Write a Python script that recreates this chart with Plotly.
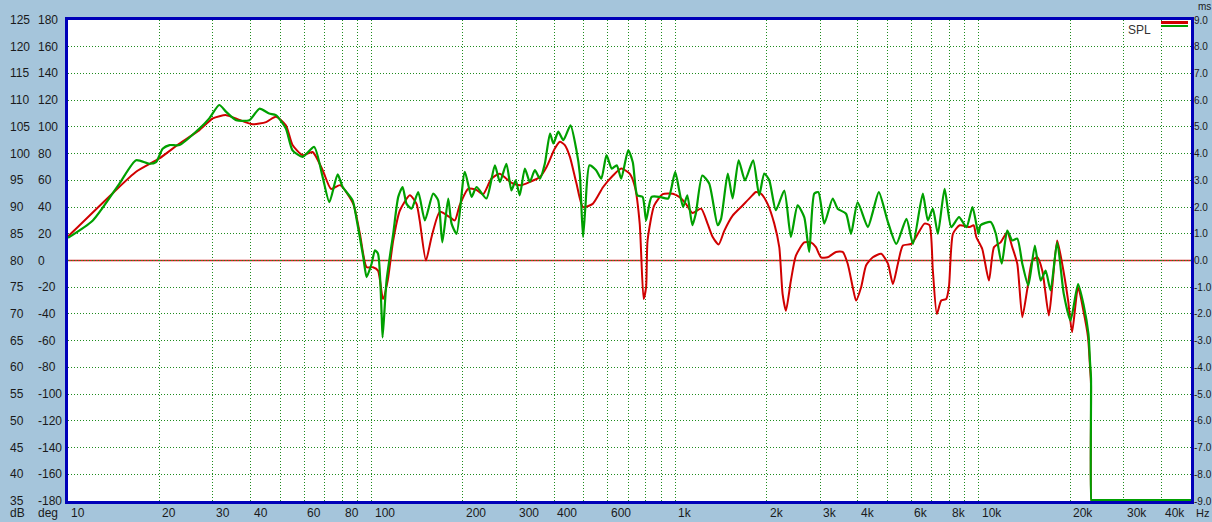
import plotly.graph_objects as go
import math

# ---------------- data ----------------
red_freq = [10, 14.04, 16.76, 20, 23.3, 27.1, 30, 33.2, 36.7, 40.6, 44.9, 48.4, 52.2, 54.9, 59.3,
            63.9, 69.0, 73.5, 78.8, 87, 91.5, 96.3, 101, 105, 109, 113, 117.8, 124, 133.7, 140.6,
            144, 151, 157.6, 167.8, 181, 188, 195, 208, 221, 233, 248, 264, 278, 292, 311, 332,
            358, 377, 401, 417, 433, 450, 473, 497, 535, 579, 624, 664, 708, 737, 764, 787, 802,
            811, 853, 910, 982, 1031, 1085, 1139, 1217, 1278, 1329, 1390, 1452, 1546, 1667, 1775,
            1845, 1918, 2015, 2120, 2202, 2258, 2316, 2405, 2498, 2661, 2799, 2908, 3021, 3178,
            3387, 3561, 3700, 3844, 3943, 4096, 4255, 4477, 4771, 5020, 5213, 5414, 5624, 5993,
            6301, 6624, 6880, 7058, 7276, 7522, 7813, 7972, 8220, 8650, 9330, 9617, 9811, 10260,
            10800, 11225, 11800, 12410, 12890, 13390, 13910, 14450, 15010, 15590, 16190, 17010,
            17450, 18120, 18820, 19690, 20290, 21230, 22160, 22900, 23250, 23420, 23480, 23560,
            23700, 30000, 40000, 50000]
red_db = [84.5, 92.6, 96.6, 99.1, 101.9, 104.4, 106.6, 107.2, 106.3, 105.5, 105.9, 106.9, 105.3,
          101.6, 99.7, 100.3, 96.9, 93.4, 94.1, 90.6, 85, 78.75, 78.75, 78.1, 72.8, 76.25, 83.75,
          89.4, 92.2, 90.6, 87.5, 80, 84.4, 89.1, 88.1, 87.5, 90.3, 93.4, 93.25, 92.4, 95.3, 96.25,
          95.3, 94.4, 94.1, 94.7, 95.6, 97.5, 100.9, 102.2, 101.6, 99.4, 94.4, 90, 90.6, 93.75,
          95.9, 97.2, 96.25, 93.75, 86.9, 72.8, 75, 83.75, 90.3, 92.4, 92.5, 91.9, 90.6, 88.9,
          89.7, 86.9, 84.4, 83, 85.6, 88.4, 90.3, 91.9, 92.8, 92.5, 90.6, 86.9, 82.5, 73.75, 70.6,
          76.25, 80.9, 83.4, 83.4, 82.5, 80.6, 80.6, 81.6, 81.6, 79.4, 75, 72.5, 75, 79.1, 80.6,
          81.25, 79.4, 75.6, 79.4, 82.8, 83.1, 85, 86.9, 86.6, 78.1, 70, 72.5, 72.8, 75, 85, 86.6,
          86.25, 86.6, 84.4, 82.2, 76.25, 82.5, 83.4, 85.3, 82.5, 79.4, 69.4, 74.7, 80, 80.6,
          78.1, 69.7, 75, 83.75, 79.4, 72.5, 66.6, 75, 70.3, 65.6, 60, 57, 35.15, 35.15, 35.15,
          35.15, 35.15, 35.15]

green_freq = [10, 12.07, 14.77, 16.76, 18.54, 19.5, 20.5, 21.6, 23.3, 27.1, 29.2, 31.5, 33.2, 35.8,
              39.6, 42.7, 46.0, 48.4, 52.2, 54.9, 59.3, 64.7, 69.0, 72.6, 77.3, 80.3, 86.6, 89,
              93.9, 96.3, 100, 102.6, 105, 107.9, 108.7, 112, 117.8, 122.4, 126.5, 130.4, 135.4,
              142.4, 149.8, 159.5, 165.7, 171, 178.8, 183.4, 190.5, 202.8, 213.5, 221.6, 239,
              254.7, 264.6, 278, 288.8, 298.3, 307.6, 319.7, 332, 345, 358.3, 372, 387, 397, 412,
              428, 452, 473, 485, 497, 506, 522, 549, 571, 594, 618, 642, 664, 700, 725, 750, 781,
              802, 836, 890, 948, 1000, 1031, 1062, 1096, 1139, 1169, 1228, 1294, 1380, 1416,
              1490, 1546, 1618, 1698, 1806, 1891, 1965, 2041, 2146, 2287, 2405, 2530, 2661, 2763,
              2871, 2963, 3098, 3302, 3428, 3654, 3795, 3990, 4311, 4477, 4686, 5020, 5349, 5778,
              6070, 6541, 6793, 7058, 7331, 7716, 8115, 8607, 9111, 9534, 9975, 10130, 10950,
              11380, 11900, 12410, 12890, 13390, 13910, 14560, 15300, 15990, 16600, 17230, 18120,
              19050, 20050, 21230, 22160, 22970, 23250, 23420, 23480, 23560, 23700, 30000, 40000,
              50000]
green_db = [84.25, 87.5, 94.4, 98.75, 98.1, 98.4, 100.9, 101.6, 101.6, 104.7, 106.6, 109.1, 107.8,
            106.25, 106.25, 108.4, 107.5, 107.2, 104.7, 100.6, 99.4, 101.25, 95.6, 90.9, 96.1,
            93.75, 91.25, 88.1, 80.6, 76.9, 79.4, 81.9, 81.25, 70, 65.6, 76.25, 85, 91.9, 93.75,
            90.6, 89.7, 92.8, 87.5, 92.5, 91.25, 83.4, 91.6, 86.9, 85, 96.6, 91.9, 93.75, 91.6,
            97.8, 94.7, 98.1, 93.1, 95, 92.2, 97.2, 94.7, 96.9, 95.3, 98.1, 103.75, 101.9, 104.1,
            102.5, 105.3, 100.6, 96.25, 84.4, 90, 97.8, 96.9, 95.3, 99.7, 97.2, 97.8, 95.3, 100.6,
            98.4, 92.2, 91.9, 87.5, 91.9, 91.9, 91.6, 96.6, 93.1, 90, 92.2, 86.6, 88.75, 95.9,
            94.4, 86.6, 87.8, 96.25, 91.6, 98.75, 95, 98.75, 92.2, 96.25, 95, 89.4, 93.1, 84.4,
            90.3, 88.1, 81.6, 92.5, 92.8, 86.9, 91.6, 89.7, 88.75, 85, 90.9, 86.25, 89.1, 92.8,
            87.2, 83.1, 87.8, 83.1, 92.5, 87.5, 89.7, 85, 93.4, 86.25, 88.1, 86.25, 90, 85, 86.6,
            87.2, 85, 79.4, 85.6, 83.75, 84.1, 79.4, 75.3, 82.8, 76.25, 78.1, 74.4, 83.4, 73.75,
            68.75, 75.6, 71.6, 66.25, 61, 58, 35.15, 35.15, 35.15, 35.15, 35.15, 35.15]

db_ticks = [125, 120, 115, 110, 105, 100, 95, 90, 85, 80, 75, 70, 65, 60, 55, 50, 45, 40, 35]
deg_ticks = [180, 160, 140, 120, 100, 80, 60, 40, 20, 0, -20, -40, -60, -80, -100, -120, -140, -160, -180]
ms_ticks = ["9.0", "8.0", "7.0", "6.0", "5.0", "4.0", "3.0", "2.0", "1.0", "0.0",
            "-1.0", "-2.0", "-3.0", "-4.0", "-5.0", "-6.0", "-7.0", "-8.0", "-9.0"]
freq_labels = [10, 20, 30, 40, 60, 80, 100, 200, 300, 400, 600, 1000, 2000, 3000, 4000, 6000,
               8000, 10000, 20000, 30000, 40000]
freq_label_text = ["10", "20", "30", "40", "60", "80", "100", "200", "300", "400", "600", "1k",
                   "2k", "3k", "4k", "6k", "8k", "10k", "20k", "30k", "40k"]
grid_freqs = ([10 * i for i in range(1, 10)] + [100 * i for i in range(1, 10)] +
              [1000 * i for i in range(1, 10)] + [10000, 20000, 30000, 40000])

# ---------------- figure ----------------
W, H = 1212, 522
L, R, T, B = 68, 21, 20, 21
PW, PH = W - L - R, H - T - B

def px_x(px):
    return (px - L) / PW

def px_y(py):
    return (H - B - py) / PH

fig = go.Figure()
fig.add_trace(go.Scatter(x=red_freq, y=red_db, mode="lines", name="SPL",
                         line=dict(color="#D00000", width=2, shape="spline", smoothing=0.6),
                         showlegend=False, hoverinfo="x+y"))
fig.add_trace(go.Scatter(x=green_freq, y=green_db, mode="lines", name="SPL",
                         line=dict(color="#00A000", width=2.2, shape="spline", smoothing=0.6),
                         showlegend=False, hoverinfo="x+y"))

font = dict(family="Arial, Liberation Sans, sans-serif", size=12, color="#1a1a1a")
small = dict(family="Arial, Liberation Sans, sans-serif", size=10, color="#1a1a1a")

ann = []
for v, d in zip(db_ticks, deg_ticks):
    ann.append(dict(x=px_x(8), xref="paper", y=v, yref="y", text=str(v), showarrow=False,
                    xanchor="left", yanchor="middle", font=font))
    ann.append(dict(x=px_x(36), xref="paper", y=v, yref="y", text=str(d), showarrow=False,
                    xanchor="left", yanchor="middle", font=font))
for v, m in zip(db_ticks, ms_ticks):
    ann.append(dict(x=px_x(1192), xref="paper", y=v, yref="y", text=m, showarrow=False,
                    xanchor="left", yanchor="middle", font=small))
for f, t in zip(freq_labels, freq_label_text):
    ann.append(dict(x=math.log10(f), xref="x", y=px_y(513), yref="paper", text=t,
                    showarrow=False, xanchor="left", yanchor="middle", xshift=1, font=font))
ann.append(dict(x=px_x(8), xref="paper", y=px_y(513), yref="paper", text="dB", showarrow=False,
                xanchor="left", yanchor="middle", font=font))
ann.append(dict(x=px_x(36), xref="paper", y=px_y(513), yref="paper", text="deg", showarrow=False,
                xanchor="left", yanchor="middle", font=font))
ann.append(dict(x=px_x(1194), xref="paper", y=px_y(513), yref="paper", text="Hz", showarrow=False,
                xanchor="left", yanchor="middle",
                font=dict(family="Arial, Liberation Sans, sans-serif", size=11, color="#1a1a1a")))
ann.append(dict(x=px_x(1196), xref="paper", y=px_y(6), yref="paper", text="ms", showarrow=False,
                xanchor="left", yanchor="middle", font=small))
ann.append(dict(x=px_x(1153), xref="paper", y=px_y(30), yref="paper", text="SPL", showarrow=False,
                xanchor="right", yanchor="middle",
                font=dict(family="Arial, Liberation Sans, sans-serif", size=12, color="#333333")))

shapes = [
    dict(type="line", xref="paper", yref="y", x0=0, x1=1, y0=80, y1=80, layer="below",
         line=dict(color="#D02020", width=1.5)),
    dict(type="line", xref="paper", yref="paper", x0=px_x(1161), x1=px_x(1188),
         y0=px_y(22.5), y1=px_y(22.5), line=dict(color="#D00000", width=3)),
    dict(type="line", xref="paper", yref="paper", x0=px_x(1161), x1=px_x(1188),
         y0=px_y(26), y1=px_y(26), line=dict(color="#00A000", width=2)),
]

grid_style = dict(showgrid=True, gridcolor="#1E8C1E", gridwidth=1, griddash="1px,2px")

fig.update_layout(
    width=W, height=H,
    margin=dict(l=L, r=R, t=T, b=B),
    paper_bgcolor="#A5C5DB",
    plot_bgcolor="#FFFFFF",
    showlegend=False,
    annotations=ann,
    shapes=shapes,
    xaxis=dict(type="log", range=[1, math.log10(50000)], tickvals=grid_freqs,
               showticklabels=False, ticks="", zeroline=False, layer="below traces",
               showline=True, linecolor="#0000B8", linewidth=3, mirror=True, **grid_style),
    yaxis=dict(range=[35, 125], tickvals=db_ticks, showticklabels=False, ticks="",
               zeroline=False, showline=True, linecolor="#0000B8", linewidth=3, mirror=True,
               layer="below traces", **grid_style),
)

fig.write_html("out.html", config={"displayModeBar": False},
               post_script="document.body.style.margin='0px';document.body.style.background='#A5C5DB';")
